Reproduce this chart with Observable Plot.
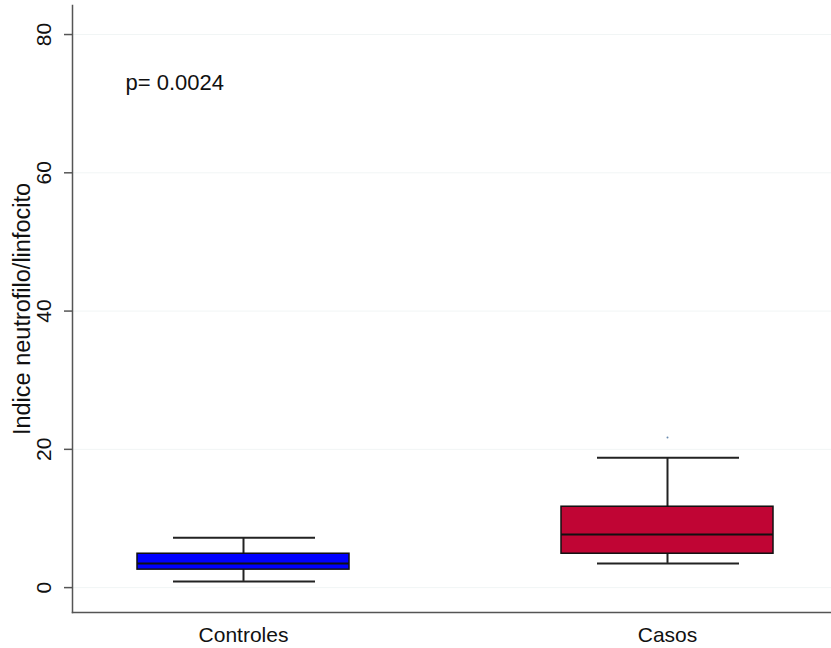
<!DOCTYPE html>
<html>
<head>
<meta charset="utf-8">
<script src="https://cdn.jsdelivr.net/npm/d3@7"></script>
<script src="https://cdn.jsdelivr.net/npm/@observablehq/plot@0.6"></script>
<style>
  html, body { margin: 0; padding: 0; background: #fff; }
  #chart svg { display: block; }
</style>
</head>
<body>
<div id="chart"></div>
<script>
// Groups and box-plot statistics
const groups = ["Controles", "Casos"];
const colors = ["#0000ff", "#c00534"];
const whiskerLow = [0.9, 3.5];
const q1 = [2.6, 4.9];
const median = [3.5, 7.7];
const q3 = [4.9, 11.7];
const whiskerHigh = [7.2, 18.8];
const outlierGroup = ["Casos"];
const outlierValue = [21.7];
const yTicks = [0, 20, 40, 60, 80];
const yLabel = "Indice neutrofilo/linfocito";
const pText = "p= 0.0024";
const pY = 73;

const stats = groups.map((g, i) => ({
  group: g, color: colors[i], lo: whiskerLow[i], q1: q1[i], med: median[i], q3: q3[i], hi: whiskerHigh[i]
}));
const outliers = outlierGroup.map((g, i) => ({group: g, value: outlierValue[i]}));

const font = "'Liberation Sans', Arial, Helvetica, sans-serif";

const chart = Plot.plot({
  width: 831,
  height: 648,
  marginLeft: 72,
  marginRight: 0,
  marginTop: 5,
  marginBottom: 36,
  style: { fontFamily: font, background: "#fff", color: "#111" },
  x: { domain: groups, range: [72, 838], paddingInner: 0.5, paddingOuter: 0.152, axis: null },
  y: { domain: [-3.6, 84.2], axis: null },
  marks: [
    Plot.gridY(yTicks, { stroke: "#f1f5f5", strokeOpacity: 1, strokeWidth: 1 }),
    Plot.ruleX(stats, { x: "group", y1: "lo", y2: "hi", stroke: "#222", strokeWidth: 2 }),
    Plot.tickY(stats, { x: "group", y: "lo", stroke: "#222", strokeWidth: 2, insetLeft: 36, insetRight: 34 }),
    Plot.tickY(stats, { x: "group", y: "hi", stroke: "#222", strokeWidth: 2, insetLeft: 36, insetRight: 34 }),
    Plot.barY(stats, { x: "group", y1: "q1", y2: "q3", fill: "color", stroke: "#111", strokeWidth: 1.5 }),
    Plot.tickY(stats, { x: "group", y: "med", stroke: "#111", strokeWidth: 2 }),
    Plot.dot(outliers, { x: "group", y: "value", r: 1, fill: "#6a8bb0", stroke: null }),
    Plot.axisY({ ticks: yTicks, tickSize: 8, tickRotate: -90, fontSize: 21, tickPadding: 14, stroke: "#555", strokeWidth: 1.5, label: null }),
    Plot.axisX({ tickSize: 0, tickPadding: 15, fontSize: 21, label: null }),
    Plot.frame({ anchor: "left", stroke: "#555", strokeWidth: 1.5 }),
    Plot.frame({ anchor: "bottom", stroke: "#555", strokeWidth: 1.5 }),
    Plot.text([yLabel], { frameAnchor: "left", dx: -50, rotate: -90, fontSize: 23.5, textAnchor: "middle", lineAnchor: "middle", fill: "#111" }),
    Plot.text([pText], { frameAnchor: "left", y: () => pY, dx: 53, textAnchor: "start", lineAnchor: "middle", fontSize: 22, fill: "#111" })
  ]
});
document.getElementById("chart").appendChild(chart);
</script>
</body>
</html>
